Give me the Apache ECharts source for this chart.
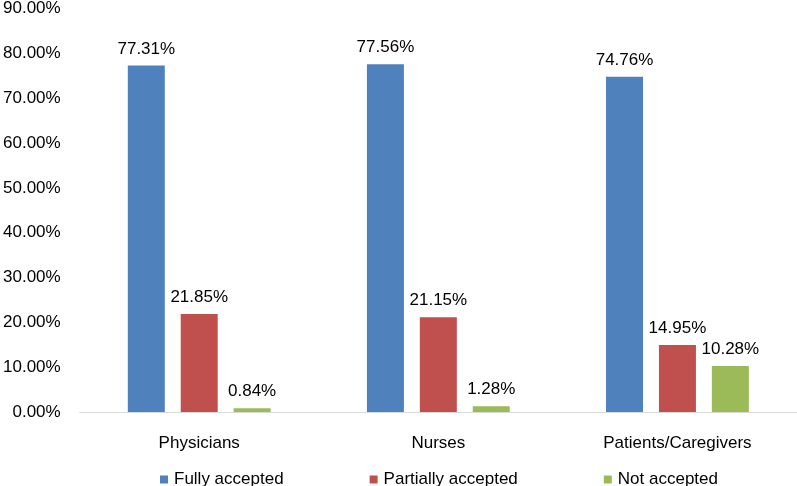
<!DOCTYPE html>
<html><head><meta charset="utf-8">
<script src="https://cdn.jsdelivr.net/npm/echarts@6/dist/echarts.min.js"></script>
<style>html,body{margin:0;padding:0;background:#fff}#c{width:797px;height:486px}</style>
</head><body><div id="c"></div>
<script>
const categories = ['Physicians', 'Nurses', 'Patients/Caregivers'];
const seriesNames = ['Fully accepted', 'Partially accepted', 'Not accepted'];
const fullyAccepted = [77.31, 77.56, 74.76];
const partiallyAccepted = [21.85, 21.15, 14.95];
const notAccepted = [0.84, 1.28, 10.28];
const colors = ['#4F81BD', '#C0504D', '#9BBB59'];
const dataSets = [fullyAccepted, partiallyAccepted, notAccepted];
const font = 'Liberation Sans, Arial, sans-serif';

const chart = echarts.init(document.getElementById('c'), null, {renderer: 'canvas'});
chart.setOption({
  animation: false,
  textStyle: {fontFamily: font},
  grid: {left: 77, right: 0, top: 8, bottom: 74, containLabel: false},
  legend: {
    top: 466, left: 155,
    itemWidth: 8, itemHeight: 8, itemGap: 86,
    icon: 'rect',
    textStyle: {fontSize: 17, color: '#000', fontFamily: font, padding: [0,0,0,1]},
    data: seriesNames
  },
  xAxis: {
    type: 'category', data: categories,
    axisLine: {lineStyle: {color: '#D9D9D9', width: 1}},
    axisTick: {show: false},
    axisLabel: {color: '#000', fontSize: 17, margin: 23, fontFamily: font}
  },
  yAxis: {
    type: 'value', min: 0, max: 90, interval: 10,
    axisLine: {show: false}, axisTick: {show: false}, splitLine: {show: false},
    axisLabel: {color: '#000', fontSize: 17, margin: 19, fontFamily: font,
      formatter: v => v.toFixed(2) + '%'}
  },
  series: dataSets.map((d, i) => ({
    name: seriesNames[i], type: 'bar', data: d,
    barWidth: 37, barGap: '43%',
    itemStyle: {color: colors[i]},
    label: {show: true, position: 'top', distance: 8, color: '#000', fontSize: 17,
      fontFamily: font, formatter: p => p.value.toFixed(2) + '%'}
  }))
});
</script></body></html>
